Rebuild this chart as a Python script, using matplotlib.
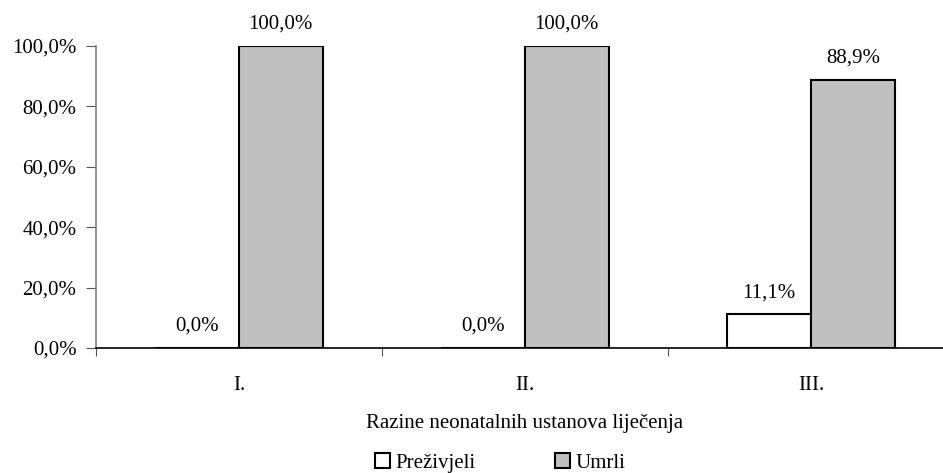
import matplotlib
matplotlib.use("Agg")
import matplotlib.pyplot as plt
from matplotlib.patches import Patch

categories = ["I.", "II.", "III."]
prezivjeli = [0.0, 0.0, 11.1]
umrli = [100.0, 100.0, 88.9]
yticks = [0, 20, 40, 60, 80, 100]

plt.rcParams['font.family'] = ['Liberation Serif', 'DejaVu Serif']
fs = 15

fig = plt.figure(figsize=(9.43, 4.73), dpi=100)
ax = fig.add_axes([96/943, 1-348/473, (954-96)/943, (348-46)/473])

x = list(range(len(categories)))
w = 0.292
b1 = ax.bar([i - w/2 for i in x], prezivjeli, w, color='white', edgecolor='black', linewidth=1.5, label='Preživjeli')
b2 = ax.bar([i + w/2 for i in x], umrli, w, color='#c0c0c0', edgecolor='black', linewidth=1.5, label='Umrli')

def fmt(v):
    return f"{v:.1f}".replace('.', ',') + '%'

for bars, vals in ((b1, prezivjeli), (b2, umrli)):
    for r, v in zip(bars, vals):
        ax.annotate(fmt(v), (r.get_x() + r.get_width()/2, v), xytext=(0, 15.5),
                    textcoords='offset points', ha='center', va='center', fontsize=fs)

ax.set_xlim(-0.5, 2.5)
ax.set_ylim(0, 100)
ax.set_yticks(yticks)
ax.set_yticklabels([fmt(v) for v in yticks], fontsize=fs)
ax.set_xticks([-0.5, 0.5, 1.5, 2.5])
ax.set_xticklabels([])
ax.set_xticks(x, minor=True)
ax.set_xticklabels(categories, minor=True, fontsize=fs)
ax.tick_params(axis='x', which='minor', length=0, pad=20)
ax.tick_params(axis='x', which='major', length=6, direction='out', color='#555555')
ax.tick_params(axis='y', length=7, direction='out', color='#555555', pad=7)

for s in ('top', 'right'):
    ax.spines[s].set_visible(False)
ax.spines['left'].set_color('#808080')
ax.spines['left'].set_linewidth(1.2)
ax.spines['bottom'].set_color('black')
ax.spines['bottom'].set_linewidth(1.2)

ax.set_xlabel("Razine neonatalnih ustanova liječenja", fontsize=fs, labelpad=14)

handles = [Patch(facecolor='white', edgecolor='black', linewidth=1.5),
           Patch(facecolor='#c0c0c0', edgecolor='black', linewidth=1.5)]
fig.legend(handles, ['Preživjeli', 'Umrli'], loc='center', bbox_to_anchor=(500/943, 1-463/473),
           ncol=2, frameon=False, fontsize=fs, handlelength=0.75, handleheight=0.75,
           handletextpad=0.25, columnspacing=3.8)

fig.savefig("out.png", dpi=100)
